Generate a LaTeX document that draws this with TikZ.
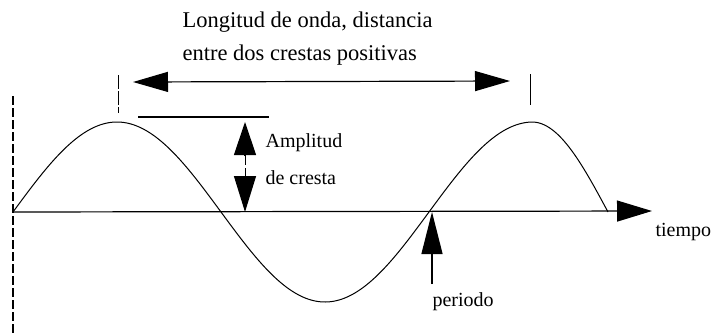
\documentclass[tikz,border=0pt]{standalone}
\usepackage{fontspec}
\setmainfont{Liberation Serif}
\usetikzlibrary{arrows.meta}
\begin{document}
\begin{tikzpicture}[x=1pt,y=-1pt,
  line width=1.2pt,
  lbl/.style={anchor=west,inner sep=0pt,font=\fontsize{20}{22}\selectfont},
  toplbl/.style={anchor=west,inner sep=0pt,font=\fontsize{22.5}{24}\selectfont},
  bigtip/.style={-{Triangle[length=35pt,width=21pt]}},
  dtip/.style={{Triangle[length=35pt,width=20pt]}-{Triangle[length=35pt,width=20pt]}},
  dashline/.style={dash pattern=on 9pt off 3pt}]
\useasboundingbox (0,0) rectangle (719,335);
% axes
\coordinate (vtop) at (13,96);
\coordinate (vbot) at (13,333);
\coordinate (o) at (13,212);
\coordinate (xend) at (652,211);
\draw[dashline] (vtop) -- (vbot);
\draw[bigtip] (o) -- (xend);
% wave
\draw[line width=1pt] plot[domain=13:608,samples=300]
  (\x,{(\x<532) ? (212-90*sin((\x-13)/416*360)) : (212-90*cos((\x-532)/76*90))});
% crest ticks
\coordinate (t1a) at (118,75); \coordinate (t1b) at (118,113);
\coordinate (t2a) at (530,74); \coordinate (t2b) at (530,105);
\draw[line width=0.9pt,dash pattern=on 14pt off 2pt] (t1a) -- (t1b);
\draw[line width=0.9pt] (t2a) -- (t2b);
% wavelength arrow
\coordinate (wl) at (133,82);
\coordinate (wr) at (510,81);
\draw[dtip] (wl) -- (wr);
\node[toplbl] (t1) at (182,22) {Longitud de onda, distancia};
\node[toplbl] (t2) at (182,55) {entre dos crestas positivas};
% amplitude
\coordinate (al) at (138,117); \coordinate (ar) at (269,117);
\draw (al) -- (ar);
\coordinate (au) at (245,122); \coordinate (aub) at (245,156);
\coordinate (adb) at (245,176); \coordinate (ad) at (245,212);
\draw[-{Triangle[length=33pt,width=22pt]}] (aub) -- (au);
\draw[dashline,line width=0.8pt] (aub) -- (adb);
\draw[-{Triangle[length=36pt,width=22pt]}] (adb) -- (ad);
\node[lbl] (amp) at (265,143) {Amplitud};
\node[lbl] (cre) at (265,178) {de cresta};
% period
\coordinate (pt) at (432,212); \coordinate (pb) at (432,284);
\draw[-{Triangle[length=42pt,width=21pt]}] (pb) -- (pt);
\node[lbl] (per) at (432,302) {periodo};
\node[lbl] (tie) at (655,232) {tiempo};
\end{tikzpicture}
\end{document}
